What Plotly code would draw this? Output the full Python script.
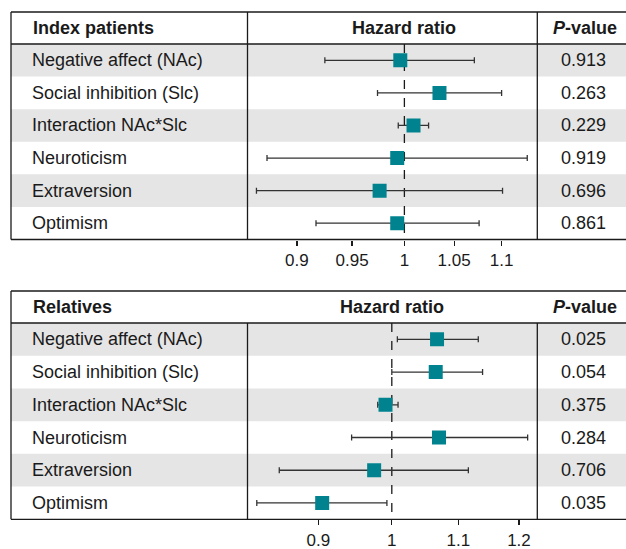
import math
import plotly.graph_objects as go

W, H = 626, 549

# ---------------- data ----------------
label_text = ["Negative affect (NAc)", "Social inhibition (Slc)", "Interaction NAc*Slc",
              "Neuroticism", "Extraversion", "Optimism"]

idx_hr = [0.996, 1.035, 1.009, 0.993, 0.976, 0.993]
idx_lo = [0.925, 0.974, 0.994, 0.874, 0.865, 0.917]
idx_hi = [1.071, 1.100, 1.024, 1.128, 1.101, 1.076]
idx_p = ["0.913", "0.263", "0.229", "0.919", "0.696", "0.861"]

rel_hr = [1.067, 1.065, 0.991, 1.070, 0.975, 0.905]
rel_lo = [1.008, 1.000, 0.980, 0.944, 0.851, 0.824]
rel_hi = [1.132, 1.139, 1.009, 1.215, 1.116, 0.993]
rel_p = ["0.025", "0.054", "0.375", "0.284", "0.706", "0.035"]

idx_ticks = [0.9, 0.95, 1, 1.05, 1.1]
idx_ticktext = ["0.9", "0.95", "1", "1.05", "1.1"]
rel_ticks = [0.9, 1, 1.1, 1.2]
rel_ticktext = ["0.9", "1", "1.1", "1.2"]

# ---------------- style ----------------
FONT = "Liberation Sans, Arial, Helvetica, sans-serif"
TEAL = "#00838F"
BAND = "#E5E5E5"
LINE = "#1a1a1a"
FS = 18
TICK_FS = 17

def px(x):
    return x / W

def py(y):
    return 1 - y / H

rows = list(range(1, 7))

fig = go.Figure()

def add_panel(hr, lo, hi, xa, ya):
    fig.add_trace(go.Scatter(
        x=hr, y=rows, mode="markers", xaxis=xa, yaxis=ya,
        marker=dict(symbol="square", size=14, color=TEAL, line=dict(width=0)),
        error_x=dict(type="data", symmetric=False,
                     array=[h - m for h, m in zip(hi, hr)],
                     arrayminus=[m - l for m, l in zip(hr, lo)],
                     color="#333333", thickness=1.3, width=3),
        hoverinfo="skip", showlegend=False,
    ))

add_panel(idx_hr, idx_lo, idx_hi, "x", "y")
add_panel(rel_hr, rel_lo, rel_hi, "x2", "y2")

# panel geometry (pixels)
LEFT = 11
DIV1 = 247.5
DIV2 = 537.3
top_panel = dict(top=12, hdr=44, bot=239.5)
bot_panel = dict(top=291, hdr=323, bot=519.3)

axis_common = dict(type="log", showgrid=False, zeroline=False, showline=False,
                   automargin=False,
                   ticks="outside", ticklen=5, tickwidth=1.2, tickcolor=LINE,
                   tickfont=dict(family=FONT, size=TICK_FS, color=LINE),
                   ticklabelstandoff=0, fixedrange=True)

fig.update_layout(
    xaxis=dict(domain=[px(DIV1), px(DIV2)], anchor="y",
               range=[-0.1538 / math.log(10), 0.1303 / math.log(10)],
               tickvals=idx_ticks, ticktext=idx_ticktext, **axis_common),
    yaxis=dict(domain=[py(top_panel["bot"]), py(top_panel["hdr"])], anchor="x",
               range=[6.5, 0.5], visible=False, fixedrange=True, automargin=False),
    xaxis2=dict(domain=[px(DIV1), px(DIV2)], anchor="y2",
                range=[-0.2069 / math.log(10), 0.2086 / math.log(10)],
                tickvals=rel_ticks, ticktext=rel_ticktext, **axis_common),
    yaxis2=dict(domain=[py(bot_panel["bot"]), py(bot_panel["hdr"])], anchor="x2",
                range=[6.5, 0.5], visible=False, fixedrange=True, automargin=False),
)

shapes = []
annotations = []

def panel_decor(p, yref, xref, title, pvals, full_dividers):
    for r in (1, 3, 5):
        shapes.append(dict(type="rect", xref="paper", yref=yref,
                           x0=px(LEFT), x1=1.0, y0=r - 0.5, y1=r + 0.5,
                           fillcolor=BAND, line=dict(width=0), layer="below"))
    shapes.append(dict(type="line", xref=xref, yref=yref, x0=1, x1=1,
                       y0=0.5, y1=6.5, line=dict(color=LINE, width=1.3, dash="dash"),
                       layer="below"))
    lw = 1.3
    for yy in (p["top"], p["hdr"], p["bot"]):
        shapes.append(dict(type="line", xref="paper", yref="paper",
                           x0=px(LEFT), x1=1.0, y0=py(yy), y1=py(yy),
                           line=dict(color=LINE, width=lw)))
    shapes.append(dict(type="line", xref="paper", yref="paper",
                       x0=px(LEFT), x1=px(LEFT), y0=py(p["top"]), y1=py(p["bot"]),
                       line=dict(color=LINE, width=lw)))
    ytop = p["top"] if full_dividers else p["hdr"]
    for xx in (DIV1, DIV2):
        shapes.append(dict(type="line", xref="paper", yref="paper",
                           x0=px(xx), x1=px(xx), y0=py(ytop), y1=py(p["bot"]),
                           line=dict(color=LINE, width=lw)))
    hy = py((p["top"] + p["hdr"]) / 2)
    annotations.append(dict(xref="paper", yref="paper", x=px(31), y=hy,
                            text="<b>" + title + "</b>", showarrow=False,
                            xanchor="left", yanchor="middle",
                            font=dict(family=FONT, size=FS, color=LINE)))
    annotations.append(dict(xref=xref, yref="paper", x=0, y=hy,
                            text="<b>Hazard ratio</b>", showarrow=False,
                            xanchor="center", yanchor="middle",
                            font=dict(family=FONT, size=FS, color=LINE)))
    annotations.append(dict(xref="paper", yref="paper", x=px(585), y=hy,
                            text="<b><i>P</i>-value</b>", showarrow=False,
                            xanchor="center", yanchor="middle",
                            font=dict(family=FONT, size=FS, color=LINE)))
    for r, lab, pv in zip(rows, label_text, pvals):
        annotations.append(dict(xref="paper", yref=yref, x=px(30), y=r,
                                text=lab, showarrow=False,
                                xanchor="left", yanchor="middle",
                                font=dict(family=FONT, size=FS, color=LINE)))
        annotations.append(dict(xref="paper", yref=yref, x=px(583), y=r,
                                text=pv, showarrow=False,
                                xanchor="center", yanchor="middle",
                                font=dict(family=FONT, size=FS, color=LINE)))

panel_decor(top_panel, "y", "x", "Index patients", idx_p, True)
panel_decor(bot_panel, "y2", "x2", "Relatives", rel_p, False)

fig.update_layout(
    width=W, height=H, autosize=False,
    margin=dict(l=0, r=0, t=0, b=0, pad=0, autoexpand=False),
    paper_bgcolor="white", plot_bgcolor="rgba(0,0,0,0)",
    showlegend=False,
    shapes=shapes, annotations=annotations,
    font=dict(family=FONT, size=FS, color=LINE),
)

post = (
    "var s=document.createElement('style');"
    "s.innerHTML='html,body{margin:0;padding:0;overflow:hidden;width:626px;height:549px;}';"
    "document.head.appendChild(s);"
    "var g=document.getElementById('{plot_id}');"
    "g.style.position='fixed';g.style.top='0px';g.style.left='0px';"
)

fig.write_html("out.html",
               config={"displayModeBar": False, "responsive": False, "staticPlot": True},
               post_script=post)
